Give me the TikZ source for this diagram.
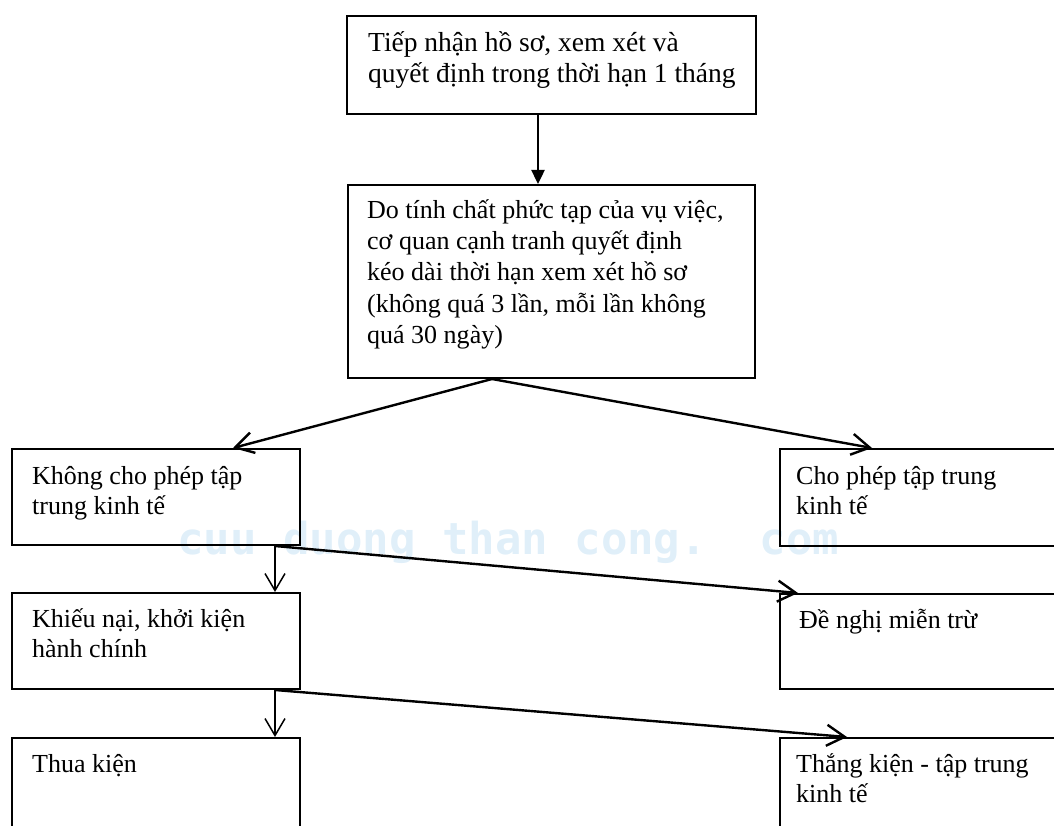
\documentclass[tikz,border=0pt]{standalone}
\usepackage{fontspec}
\setmainfont{Liberation Serif}
\newfontfamily\wmfont{DejaVu Sans Mono}
\usetikzlibrary{arrows.meta,calc}
\definecolor{wmblue}{RGB}{224,239,249}
\begin{document}
\begin{tikzpicture}[x=1pt,y=-1pt,
  box/.style={draw, line width=2pt, rectangle, inner sep=0pt, anchor=north west},
  txt/.style={anchor=base west, inner sep=0pt, font=\fontsize{26}{30}\selectfont},
  flow/.style={line width=2.4pt, -{Straight Barb[length=18pt,width=21pt,line width=2.4pt]}},
  thin flow/.style={line width=1.5pt, -{Straight Barb[length=17pt,width=20pt,line width=1.5pt]}},
  main flow/.style={line width=2.4pt, -{Triangle[length=14pt,width=13pt]}}
]
\useasboundingbox (0,0) rectangle (1054,826);
\clip (0,0) rectangle (1054,826);
% watermark
\node[anchor=base west, inner sep=0pt, text=wmblue, font=\wmfont\bfseries\fontsize{44}{44}\selectfont] (wm) at (177,554) {cuu duong than cong.\ \ com};
% boxes
\node[box, minimum width=409pt, minimum height=98pt] (b1) at (346,15) {};
\node[box, minimum width=407pt, minimum height=193pt] (b2) at (347,184) {};
\node[box, minimum width=288pt, minimum height=96pt] (b3) at (11,448) {};
\node[box, minimum width=290pt, minimum height=97pt] (b4) at (779,448) {};
\node[box, minimum width=288pt, minimum height=96pt] (b5) at (11,592) {};
\node[box, minimum width=290pt, minimum height=95pt] (b6) at (779,593) {};
\node[box, minimum width=288pt, minimum height=110pt] (b7) at (11,737) {};
\node[box, minimum width=290pt, minimum height=110pt] (b8) at (779,737) {};
% texts
\node[txt, font=\fontsize{27.5}{30.5}\selectfont] (t1) at (368,52) {\vtop{\hbox{Tiếp nhận hồ sơ, xem xét và}\hbox{quyết định trong thời hạn 1 tháng}}};
\node[txt, font=\fontsize{26}{31}\selectfont] (t2) at (367,219) {\vtop{\hbox{Do tính chất phức tạp của vụ việc,}\hbox{cơ quan cạnh tranh quyết định}\hbox{kéo dài thời hạn xem xét hồ sơ}\hbox{(không quá 3 lần, mỗi lần không}\hbox{quá 30 ngày)}}};
\node[txt] (t3) at (32,484) {\vtop{\hbox{Không cho phép tập}\hbox{trung kinh tế}}};
\node[txt] (t4) at (796,484) {\vtop{\hbox{Cho phép tập trung}\hbox{kinh tế}}};
\node[txt] (t5) at (32,627) {\vtop{\hbox{Khiếu nại, khởi kiện}\hbox{hành chính}}};
\node[txt] (t6) at (799,628) {Đề nghị miễn trừ};
\node[txt] (t7) at (32,772) {Thua kiện};
\node[txt] (t8) at (796,772) {\vtop{\hbox{Thắng kiện - tập trung}\hbox{kinh tế}}};
% connectors
\draw[main flow] ($(b1.south west)+(192,0)$) -- ($(b2.north west)+(191,0)$);
\coordinate (s2) at ($(b2.south west)+(145,0)$);
\draw[flow] (s2) -- ($(b3.north west)+(222,0)$);
\draw[flow] (s2) -- ($(b4.north west)+(93,0)$);
\coordinate (s3) at ($(b3.south west)+(264,0)$);
\draw[thin flow] (s3) -- ($(b5.north west)+(264,0)$);
\draw[flow] (s3) -- ($(b6.north west)+(19,0)$);
\coordinate (s5) at ($(b5.south west)+(264,0)$);
\draw[thin flow] (s5) -- ($(b7.north west)+(264,0)$);
\draw[flow] (s5) -- ($(b8.north west)+(68,0)$);
\end{tikzpicture}
\end{document}
